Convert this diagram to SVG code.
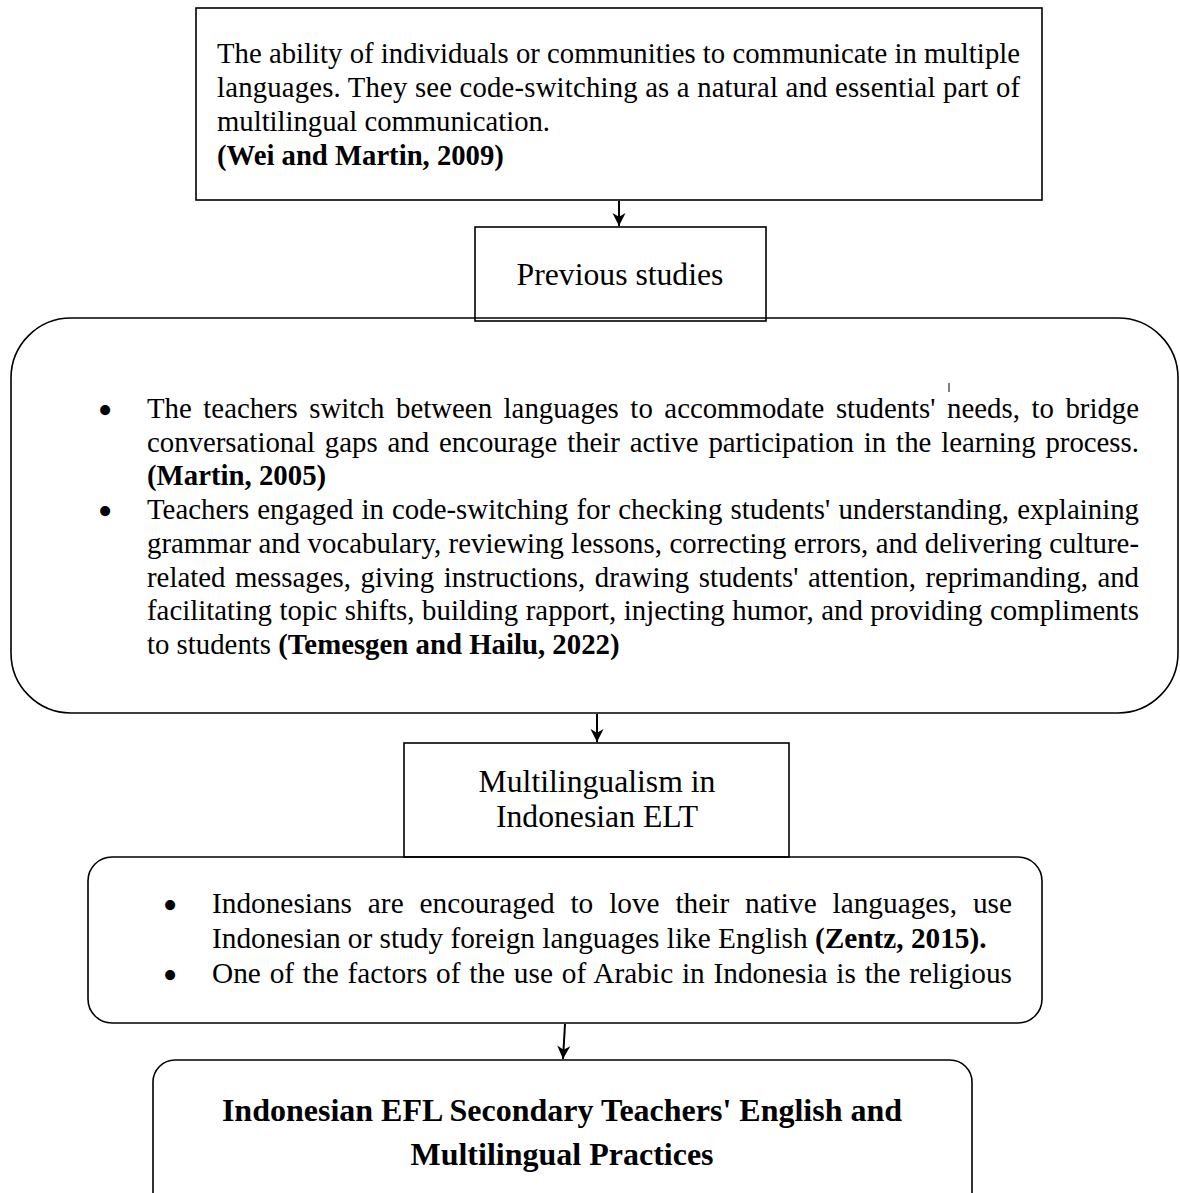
<svg xmlns="http://www.w3.org/2000/svg" width="1180" height="1193" viewBox="0 0 1180 1193">
<style>
.box{fill:none;stroke:#000;stroke-width:1.6}
.t{font-family:"Liberation Serif","Times New Roman",serif;font-size:28.8px;fill:#000}
.t2{font-family:"Liberation Serif","Times New Roman",serif;font-size:29.3px;fill:#000}
.tt{font-family:"Liberation Serif","Times New Roman",serif;font-size:28.7px;fill:#000}
.h{font-family:"Liberation Serif","Times New Roman",serif;font-size:31.7px;fill:#000}
.bul{font-family:"Liberation Serif","Times New Roman",serif;font-size:42px;fill:#000}
.b{font-weight:bold}
.title{font-family:"Liberation Serif","Times New Roman",serif;font-size:32px;font-weight:bold;fill:#000}
.conn{stroke:#000;stroke-width:2;fill:none}
</style>
<defs>
<marker id="arr" viewBox="0 0 14 15" refX="14" refY="7.5" markerWidth="15" markerHeight="14" markerUnits="userSpaceOnUse" orient="auto">
<path d="M0,0.5 L14,7.5 L0,14.5 L4,7.5 Z" fill="#000"/>
</marker>
</defs>
<rect width="1180" height="1193" fill="#fff"/>

<g id="definition">
<rect class="box" x="196" y="8" width="846" height="192"/>
<text class="tt" x="217" y="63" textLength="803" lengthAdjust="spacing">The ability of individuals or communities to communicate in multiple</text>
<text class="tt" x="217" y="97" textLength="803" lengthAdjust="spacing">languages. They see code-switching as a natural and essential part of</text>
<text class="tt" x="217" y="131">multilingual communication.</text>
<text class="tt b" x="217" y="165">(Wei and Martin, 2009)</text>
</g>

<g id="previous-studies-box">
<rect x="11" y="318" width="1167" height="395" rx="60" ry="60" class="box"/>
<line x1="949" y1="383" x2="949" y2="392" stroke="#000" stroke-width="1"/>
<text class="bul" x="105" y="424" text-anchor="middle">•</text>
<text class="t" x="147" y="418" word-spacing="4.38" textLength="992" lengthAdjust="spacing">The teachers switch between languages to accommodate students' needs, to bridge</text>
<text class="t" x="147" y="451.5" word-spacing="2.66" textLength="992" lengthAdjust="spacing">conversational gaps and encourage their active participation in the learning process.</text>
<text class="t b" x="147" y="485">(Martin, 2005)</text>
<text class="bul" x="105" y="525" text-anchor="middle">•</text>
<text class="t" x="147" y="519" word-spacing="0.88" textLength="992" lengthAdjust="spacing">Teachers engaged in code-switching for checking students' understanding, explaining</text>
<text class="t" x="147" y="552.5" word-spacing="0.2" textLength="992" lengthAdjust="spacing">grammar and vocabulary, reviewing lessons, correcting errors, and delivering culture-</text>
<text class="t" x="147" y="586.5" word-spacing="2.36" textLength="992" lengthAdjust="spacing">related messages, giving instructions, drawing students' attention, reprimanding, and</text>
<text class="t" x="147" y="620" word-spacing="0.36" textLength="992" lengthAdjust="spacing">facilitating topic shifts, building rapport, injecting humor, and providing compliments</text>
<text class="t" x="147" y="654">to students <tspan class="b">(Temesgen and Hailu, 2022)</tspan></text>
</g>

<g id="previous-studies">
<rect class="box" x="475" y="227" width="291" height="94"/>
<text class="h" x="620" y="285" text-anchor="middle">Previous studies</text>
</g>

<g id="indonesian-box">
<rect x="88" y="857" width="954" height="166" rx="24" ry="24" class="box"/>
<text class="bul" x="170" y="919" text-anchor="middle">•</text>
<text class="t2" x="212" y="913" word-spacing="8.56" textLength="800" lengthAdjust="spacing">Indonesians are encouraged to love their native languages, use</text>
<text class="t2" x="212" y="948">Indonesian or study foreign languages like English <tspan class="b">(Zentz, 2015).</tspan></text>
<text class="bul" x="170" y="989" text-anchor="middle">•</text>
<text class="t2" x="212" y="983" word-spacing="1.38" textLength="800" lengthAdjust="spacing">One of the factors of the use of Arabic in Indonesia is the religious</text>
</g>

<g id="multilingualism">
<rect class="box" x="404" y="743" width="385" height="114"/>
<text class="h" x="597" y="792" text-anchor="middle">Multilingualism in</text>
<text class="h" x="597" y="827" text-anchor="middle">Indonesian ELT</text>
</g>

<g id="practices">
<path class="box" d="M153,1200 V1082 A22,22 0 0 1 175,1060 H950 A22,22 0 0 1 972,1082 V1200"/>
<text class="title" x="562" y="1121" text-anchor="middle">Indonesian EFL Secondary Teachers' English and</text>
<text class="title" x="562" y="1165" text-anchor="middle">Multilingual Practices</text>
</g>

<g id="connectors">
<line class="conn" x1="619" y1="201" x2="619" y2="226" marker-end="url(#arr)"/>
<line class="conn" x1="597" y1="714" x2="597" y2="742" marker-end="url(#arr)"/>
<line class="conn" x1="565" y1="1024" x2="563" y2="1059" marker-end="url(#arr)"/>
</g>
</svg>
